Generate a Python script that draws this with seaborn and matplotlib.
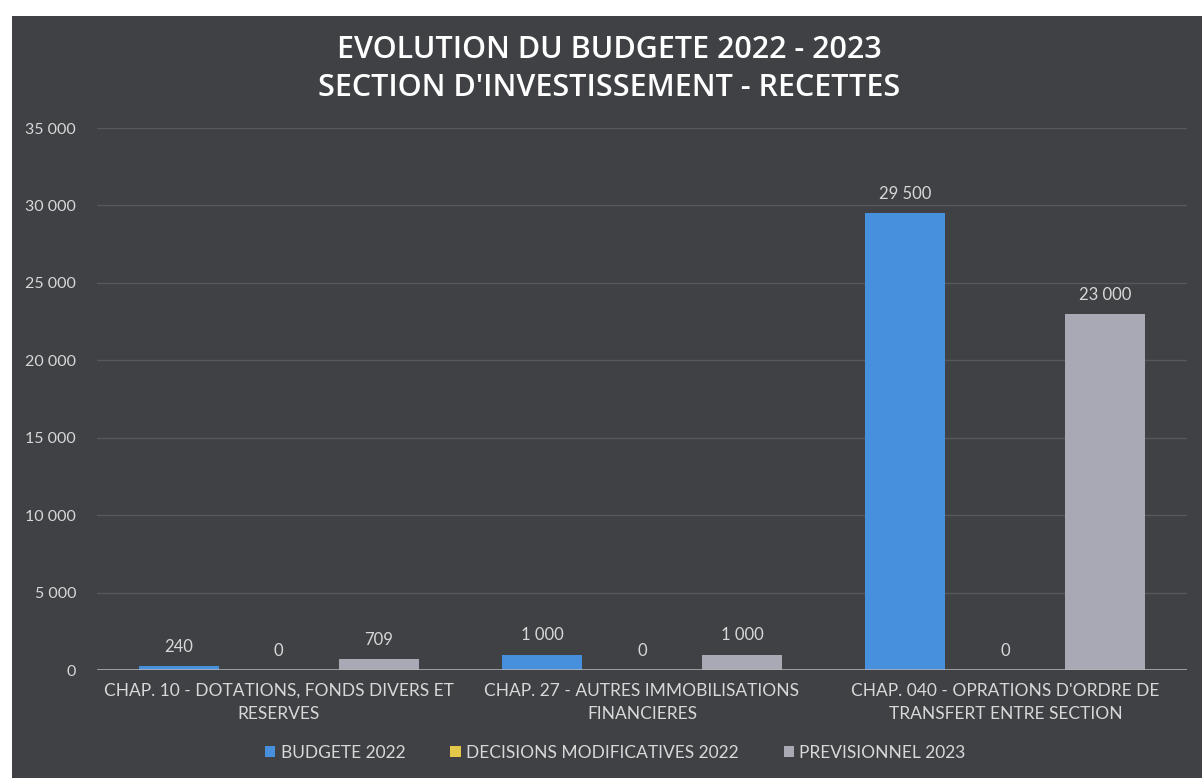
import matplotlib
matplotlib.use("Agg")
import matplotlib.pyplot as plt
import seaborn as sns
import pandas as pd
from matplotlib.patches import Rectangle, Patch

categories = [
    "CHAP. 10 - DOTATIONS, FONDS DIVERS ET\nRESERVES",
    "CHAP. 27 - AUTRES IMMOBILISATIONS\nFINANCIERES",
    "CHAP. 040 - OPRATIONS D'ORDRE DE\nTRANSFERT ENTRE SECTION",
]
series = ["BUDGETE 2022", "DECISIONS MODIFICATIVES 2022", "PREVISIONNEL 2023"]
budgete_2022 = [240, 1000, 29500]
decisions_2022 = [0, 0, 0]
previsionnel_2023 = [709, 1000, 23000]
yticks = [0, 5000, 10000, 15000, 20000, 25000, 30000, 35000]

colors = ["#4690de", "#e3c84a", "#a9a9b5"]
bg = "#3f4145"
txt = "#d8d8d8"

rows = []
for s, vals in zip(series, [budgete_2022, decisions_2022, previsionnel_2023]):
    for c, v in zip(categories, vals):
        rows.append({"cat": c, "serie": s, "val": v})
df = pd.DataFrame(rows)

sns.set_theme(style="dark")
plt.rcParams["font.family"] = ["Lato", "DejaVu Sans"]

fig = plt.figure(figsize=(12.02, 7.78), dpi=100, facecolor="white")
fig.patches.append(Rectangle((12 / 1202, 0), 1 - 12 / 1202, 1 - 16 / 778,
                             transform=fig.transFigure, facecolor=bg,
                             edgecolor="none", zorder=-5))
ax = fig.add_axes([97 / 1202, 1 - 670 / 778, (1187 - 97) / 1202, (670 - 128) / 778])
ax.set_zorder(2)
ax.set_facecolor(bg)

sns.barplot(data=df, x="cat", y="val", hue="serie", palette=colors,
            width=0.825, gap=0.2, ax=ax, legend=False, saturation=1,
            errorbar=None, zorder=3, linewidth=0, edgecolor="none")

ax.set_ylim(0, 35000)
ax.set_yticks(yticks)
ax.set_yticklabels([f"{t:,}".replace(",", " ") for t in yticks], color=txt, fontsize=11.5)
ax.tick_params(axis="y", pad=15, length=0)
ax.tick_params(axis="x", pad=9, length=0, labelsize=12.5, labelcolor=txt)
for lbl in ax.get_xticklabels():
    lbl.set_linespacing(1.55)
ax.set_xlabel("")
ax.set_ylabel("")
ax.grid(axis="y", color="#56585d", linewidth=1.0, zorder=0)
ax.grid(axis="x", visible=False)
for sp in ax.spines.values():
    sp.set_visible(False)
ax.axhline(0, color="#b8b8b8", linewidth=1.8, zorder=4)

for cont in ax.containers:
    for bar in cont:
        h = bar.get_height()
        ax.annotate(f"{int(h):,}".replace(",", " "),
                    (bar.get_x() + bar.get_width() / 2, h),
                    xytext=(0, 8), textcoords="offset points",
                    ha="center", va="bottom", color=txt, fontsize=12)

fig.text(0.507, 1 - 50 / 778, "EVOLUTION DU BUDGETE 2022 - 2023", ha="center", va="center",
         fontsize=22, fontweight="semibold", color="white", family=["Open Sans", "DejaVu Sans"])
fig.text(0.507, 1 - 88 / 778, "SECTION D'INVESTISSEMENT - RECETTES", ha="center", va="center",
         fontsize=22, fontweight="semibold", color="white", family=["Open Sans", "DejaVu Sans"])

handles = [Patch(facecolor=c, edgecolor="none") for c in colors]
leg = fig.legend(handles, series, loc="center", bbox_to_anchor=(0.512, 1 - 753 / 778),
                 ncol=3, frameon=False, fontsize=12.5, handlelength=0.6, handleheight=0.6,
                 handletextpad=0.3, columnspacing=2.6)
for t in leg.get_texts():
    t.set_color(txt)

fig.savefig("out.png", dpi=100, facecolor=fig.get_facecolor())
